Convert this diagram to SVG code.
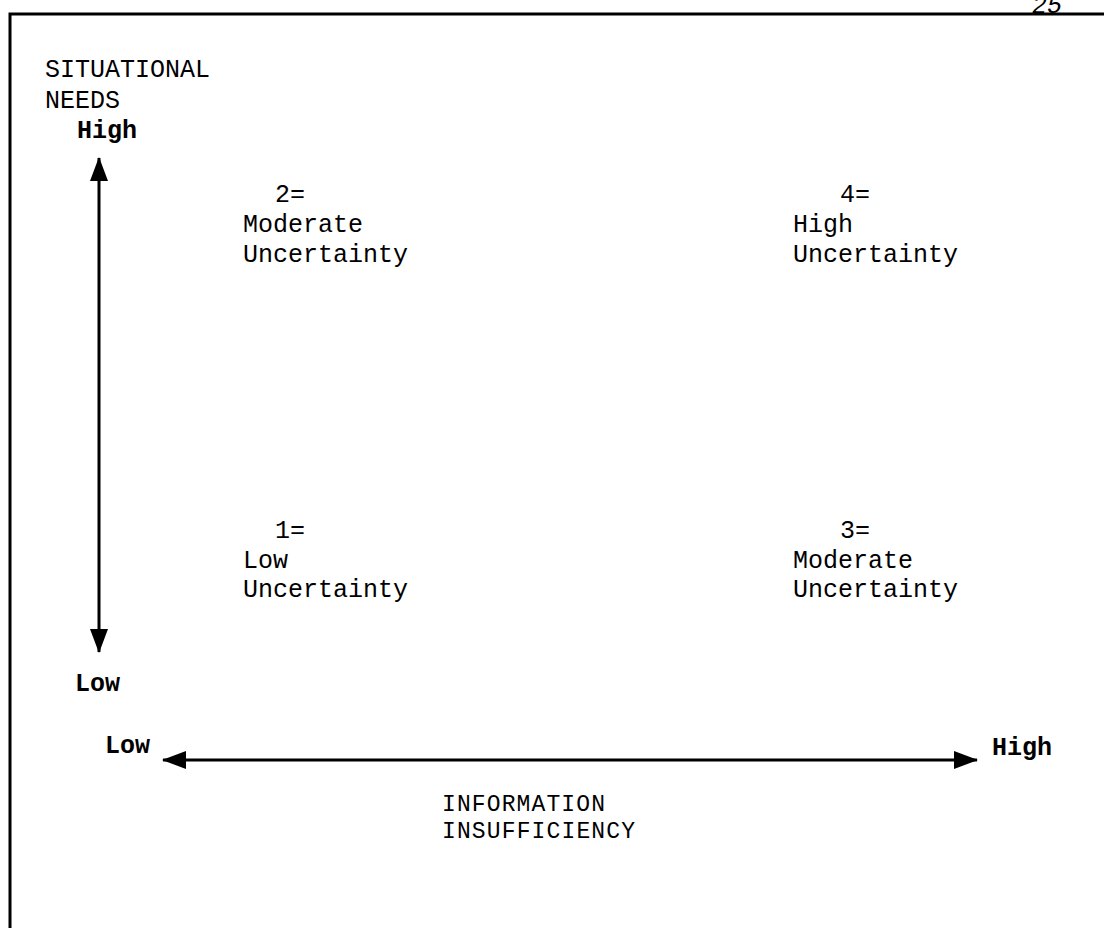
<svg xmlns="http://www.w3.org/2000/svg" width="1104" height="928" viewBox="0 0 1104 928">
<style>
text{font-family:"Liberation Mono","Courier New",monospace;font-size:25px;fill:#000}
.b{font-weight:bold}
.s{font-size:23px}
.ln{stroke:#000;stroke-width:3;fill:none}
</style>
<defs>
<marker id="ah" viewBox="0 0 24 18" refX="23" refY="9" markerWidth="24" markerHeight="18" markerUnits="userSpaceOnUse" orient="auto-start-reverse">
<path d="M0,0 L24,9 L0,18 Z" fill="#000"/>
</marker>
</defs>
<rect width="1104" height="928" fill="#fff"/>
<g id="frame">
<path class="ln" d="M10,928 V14 H1104"/>
<text x="1032" y="12.5" font-family="Liberation Serif" font-style="italic" font-size="12">25</text>
</g>
<g id="axis-y-label">
<text x="45" y="77">SITUATIONAL</text>
<text x="45" y="108">NEEDS</text>
<text class="b" x="77" y="138">High</text>
<text class="b" x="75" y="691">Low</text>
</g>
<g id="axis-x-label">
<text class="b" x="105" y="753">Low</text>
<text class="b" x="992" y="755">High</text>
<text class="s" x="442" y="811" textLength="163">INFORMATION</text>
<text class="s" x="442" y="838" textLength="193">INSUFFICIENCY</text>
</g>
<g id="q2">
<text x="275" y="202">2=</text>
<text x="243" y="232">Moderate</text>
<text x="243" y="262">Uncertainty</text>
</g>
<g id="q4">
<text x="840" y="202">4=</text>
<text x="793" y="232">High</text>
<text x="793" y="262">Uncertainty</text>
</g>
<g id="q1">
<text x="275" y="538">1=</text>
<text x="243" y="568">Low</text>
<text x="243" y="597">Uncertainty</text>
</g>
<g id="q3">
<text x="840" y="538">3=</text>
<text x="793" y="568">Moderate</text>
<text x="793" y="597">Uncertainty</text>
</g>
<g id="connectors">
<line class="ln" x1="99" y1="158" x2="99" y2="652" marker-start="url(#ah)" marker-end="url(#ah)"/>
<line class="ln" x1="163" y1="760" x2="977" y2="760" marker-start="url(#ah)" marker-end="url(#ah)"/>
</g>
</svg>
